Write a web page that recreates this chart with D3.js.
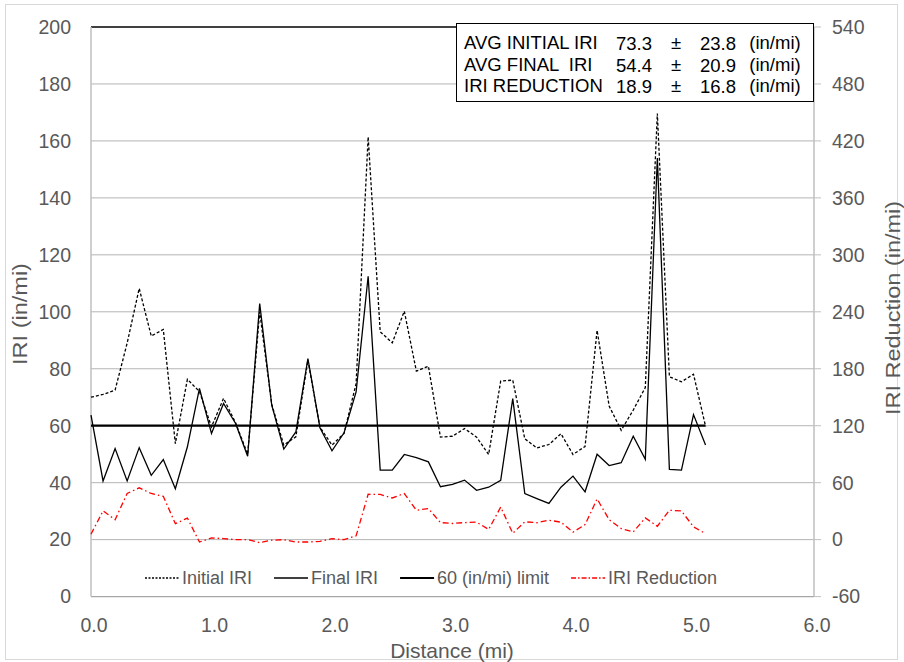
<!DOCTYPE html>
<html><head><meta charset="utf-8">
<script src="https://cdn.jsdelivr.net/npm/d3@7"></script>
<style>
html,body{margin:0;padding:0;background:#fff;}
text{font-family:"Liberation Sans",Arial,sans-serif;}
</style></head>
<body><svg id="chart" width="904" height="662"></svg>
<script>
const distance = d3.range(0, 52).map(i => +(i * 0.1).toFixed(1));
const initialIRI = [70, 71, 72.5, 89, 108.2, 91.5, 93.8, 53.7, 76.3, 72,
  59.6, 69.6, 61, 50, 100, 67.5, 53.2, 56.1, 83, 59.5,
  53.2, 57.3, 74.8, 161.4, 93, 89.1, 100.2, 79.2, 80.9, 56,
  56.3, 59, 56, 49.9, 75.7, 76, 55.4, 52.2, 53.4, 57.2,
  49.9, 52.7, 93.5, 66.9, 58.4, 65.5, 73.4, 169.6, 77.2, 75.4,
  78.1, 59.8];
const finalIRI = [63.7, 40.6, 52, 40.6, 52.3, 42.6, 48.1, 37.9, 52.6, 73.1,
  57.3, 67.8, 60.8, 49.3, 102.9, 67.2, 51.8, 57.8, 83.6, 59.3,
  51.2, 57.5, 71.9, 112.5, 44.4, 44.4, 49.9, 48.8, 47.3, 38.6,
  39.4, 40.9, 37.3, 38.4, 40.8, 69.5, 36.2, 34.4, 32.7, 38.4,
  42.3, 36.8, 50, 46, 47, 56.3, 48.2, 154, 44.7, 44.4,
  63.9, 53.2];
const reductionIRI = [5.7, 30.3, 21, 48.6, 54.6, 48.6, 45.7, 16.8, 22.7, -2.5,
  1.8, 1.1, 0, 0, -3.2, -0.6, 0, -2.5, -2.5, -1.8,
  1, 0, 4, 47.8, 47.6, 43.9, 48.6, 31, 32.7, 18,
  17, 18, 18.4, 10.7, 34.3, 6.7, 18.8, 17.8, 20.5, 18.4,
  7.9, 15.8, 42.9, 21, 11.7, 8.1, 22.9, 14.1, 30.9, 30.2,
  13.5, 6.4];
const limitValue = 60;
const limitRange = [0, 5.1];
const xTicks = [0, 1, 2, 3, 4, 5, 6];
const yTicks = [0, 20, 40, 60, 80, 100, 120, 140, 160, 180, 200];
const yRTicks = [-60, 0, 60, 120, 180, 240, 300, 360, 420, 480, 540];
const legendLabels = ["Initial IRI", "Final IRI", "60 (in/mi) limit", "IRI Reduction"];
const statLabels = ["AVG INITIAL IRI", "AVG FINAL  IRI", "IRI REDUCTION"];
const statMeans = ["73.3", "54.4", "18.9"];
const statSDs = ["23.8", "20.9", "16.8"];
const statUnit = "(in/mi)";

const svg = d3.select("#chart");
const L = 91, R = 814, T = 27, B = 596.6;
const x = d3.scaleLinear().domain([0, 6]).range([L, R]);
const y = d3.scaleLinear().domain([0, 200]).range([B, T]);
const yR = d3.scaleLinear().domain([-60, 540]).range([B, T]);

// outer border
svg.append("rect").attr("x", 5.5).attr("y", 4.5).attr("width", 892).attr("height", 655)
  .attr("fill", "#fff").attr("stroke", "#d9d9d9").attr("stroke-width", 1);

// gridlines
svg.append("g").selectAll("line").data(yTicks.filter(v => v > 0 && v < 200)).join("line")
  .attr("x1", L).attr("x2", R).attr("y1", d => y(d)).attr("y2", d => y(d))
  .attr("stroke", "#b4b4b4").attr("stroke-width", 1);
svg.append("line").attr("x1", L).attr("x2", R).attr("y1", y(200)).attr("y2", y(200))
  .attr("stroke", "#000").attr("stroke-width", 1.3);
svg.append("line").attr("x1", L).attr("x2", R).attr("y1", B).attr("y2", B)
  .attr("stroke", "#a6a6a6").attr("stroke-width", 1.3);
svg.append("line").attr("x1", L).attr("x2", L).attr("y1", T).attr("y2", B)
  .attr("stroke", "#bfbfbf").attr("stroke-width", 1.5);
svg.append("line").attr("x1", R).attr("x2", R).attr("y1", T).attr("y2", B)
  .attr("stroke", "#bfbfbf").attr("stroke-width", 1.5);

// left tick labels
svg.append("g").selectAll("text").data(yTicks).join("text")
  .attr("x", 71).attr("y", d => y(d)).attr("dy", "0.35em").attr("text-anchor", "end")
  .attr("font-size", 19.5).attr("fill", "#595959").text(d => d);
// right ticks & labels
svg.append("g").selectAll("line").data(yRTicks).join("line")
  .attr("x1", R).attr("x2", R + 7).attr("y1", d => yR(d)).attr("y2", d => yR(d))
  .attr("stroke", "#bfbfbf").attr("stroke-width", 1);
svg.append("g").selectAll("text").data(yRTicks).join("text")
  .attr("x", 832).attr("y", d => yR(d)).attr("dy", "0.35em").attr("text-anchor", "start")
  .attr("font-size", 19.5).attr("fill", "#595959").text(d => d);
// x tick labels
svg.append("g").selectAll("text").data(xTicks).join("text")
  .attr("x", d => x(d) + 3).attr("y", 632).attr("text-anchor", "middle")
  .attr("font-size", 19.5).attr("fill", "#595959").text(d => d.toFixed(1));

// axis titles
svg.append("text").attr("x", 452).attr("y", 658).attr("text-anchor", "middle")
  .attr("font-size", 21).attr("fill", "#595959").text("Distance (mi)");
svg.append("text").attr("transform", "translate(27,314) rotate(-90) scale(1.12,1)").attr("text-anchor", "middle")
  .attr("font-size", 21).attr("fill", "#595959").text("IRI (in/mi)");
svg.append("text").attr("transform", "translate(900,308) rotate(-90) scale(1.12,1)").attr("text-anchor", "middle")
  .attr("font-size", 21).attr("fill", "#595959").text("IRI Reduction (in/mi)");

// series
const lineL = d3.line().x((d, i) => x(distance[i])).y(d => y(d));
const lineR = d3.line().x((d, i) => x(distance[i])).y(d => yR(d));
svg.append("path").datum(reductionIRI).attr("d", lineR).attr("fill", "none")
  .attr("stroke", "#ff0000").attr("stroke-width", 1.3).attr("stroke-dasharray", "6,3,1.5,3");
svg.append("path").datum(initialIRI).attr("d", lineL).attr("fill", "none")
  .attr("stroke", "#000").attr("stroke-width", 1.3).attr("stroke-dasharray", "3,2");
svg.append("path").datum(finalIRI).attr("d", lineL).attr("fill", "none")
  .attr("stroke", "#000").attr("stroke-width", 1.3);
svg.append("line").attr("x1", x(limitRange[0])).attr("x2", x(limitRange[1]))
  .attr("y1", y(limitValue)).attr("y2", y(limitValue))
  .attr("stroke", "#000").attr("stroke-width", 2.2);

// legend (laid out sequentially)
const legStyles = [
  {stroke: "#000", w: 1.3, dash: "2,1.5"},
  {stroke: "#000", w: 1.3, dash: null},
  {stroke: "#000", w: 2.2, dash: null},
  {stroke: "#ff0000", w: 1.3, dash: "5,2,1.5,2"}
];
const legY = 578, sampleW = 34, sampleGap = 3, itemGap = 22;
const lg = svg.append("g");
let cx = 145;
legendLabels.forEach((lab, i) => {
  const s = legStyles[i];
  lg.append("line").attr("x1", cx).attr("x2", cx + sampleW).attr("y1", legY).attr("y2", legY)
    .attr("stroke", s.stroke).attr("stroke-width", s.w).attr("stroke-dasharray", s.dash);
  const t = lg.append("text").attr("x", cx + sampleW + sampleGap).attr("y", legY).attr("dy", "0.35em")
    .attr("font-size", 18).attr("fill", "#595959").text(lab);
  cx += sampleW + sampleGap + t.node().getComputedTextLength() + itemGap;
});

// stats box
const box = svg.append("g");
box.append("rect").attr("x", 456.5).attr("y", 23.5).attr("width", 357).attr("height", 78)
  .attr("fill", "#fff").attr("stroke", "#000").attr("stroke-width", 1);
const rowY = [49, 70.5, 92];
statLabels.forEach((lab, i) => {
  box.append("text").attr("x", 464).attr("y", rowY[i]).attr("font-size", 18.5).attr("fill", "#000")
    .attr("xml:space", "preserve").style("white-space", "pre").text(lab);
  box.append("text").attr("x", 634).attr("y", rowY[i] + 1).attr("text-anchor", "middle")
    .attr("font-size", 18.5).attr("fill", "#000").text(statMeans[i]);
  box.append("text").attr("x", 676).attr("y", rowY[i]).attr("text-anchor", "middle")
    .attr("font-size", 18.5).attr("fill", "#000").text("±");
  box.append("text").attr("x", 718).attr("y", rowY[i] + 1).attr("text-anchor", "middle")
    .attr("font-size", 18.5).attr("fill", "#000").text(statSDs[i]);
  box.append("text").attr("x", 775).attr("y", rowY[i]).attr("text-anchor", "middle")
    .attr("font-size", 18.5).attr("fill", "#000").text(statUnit);
});
</script></body></html>
